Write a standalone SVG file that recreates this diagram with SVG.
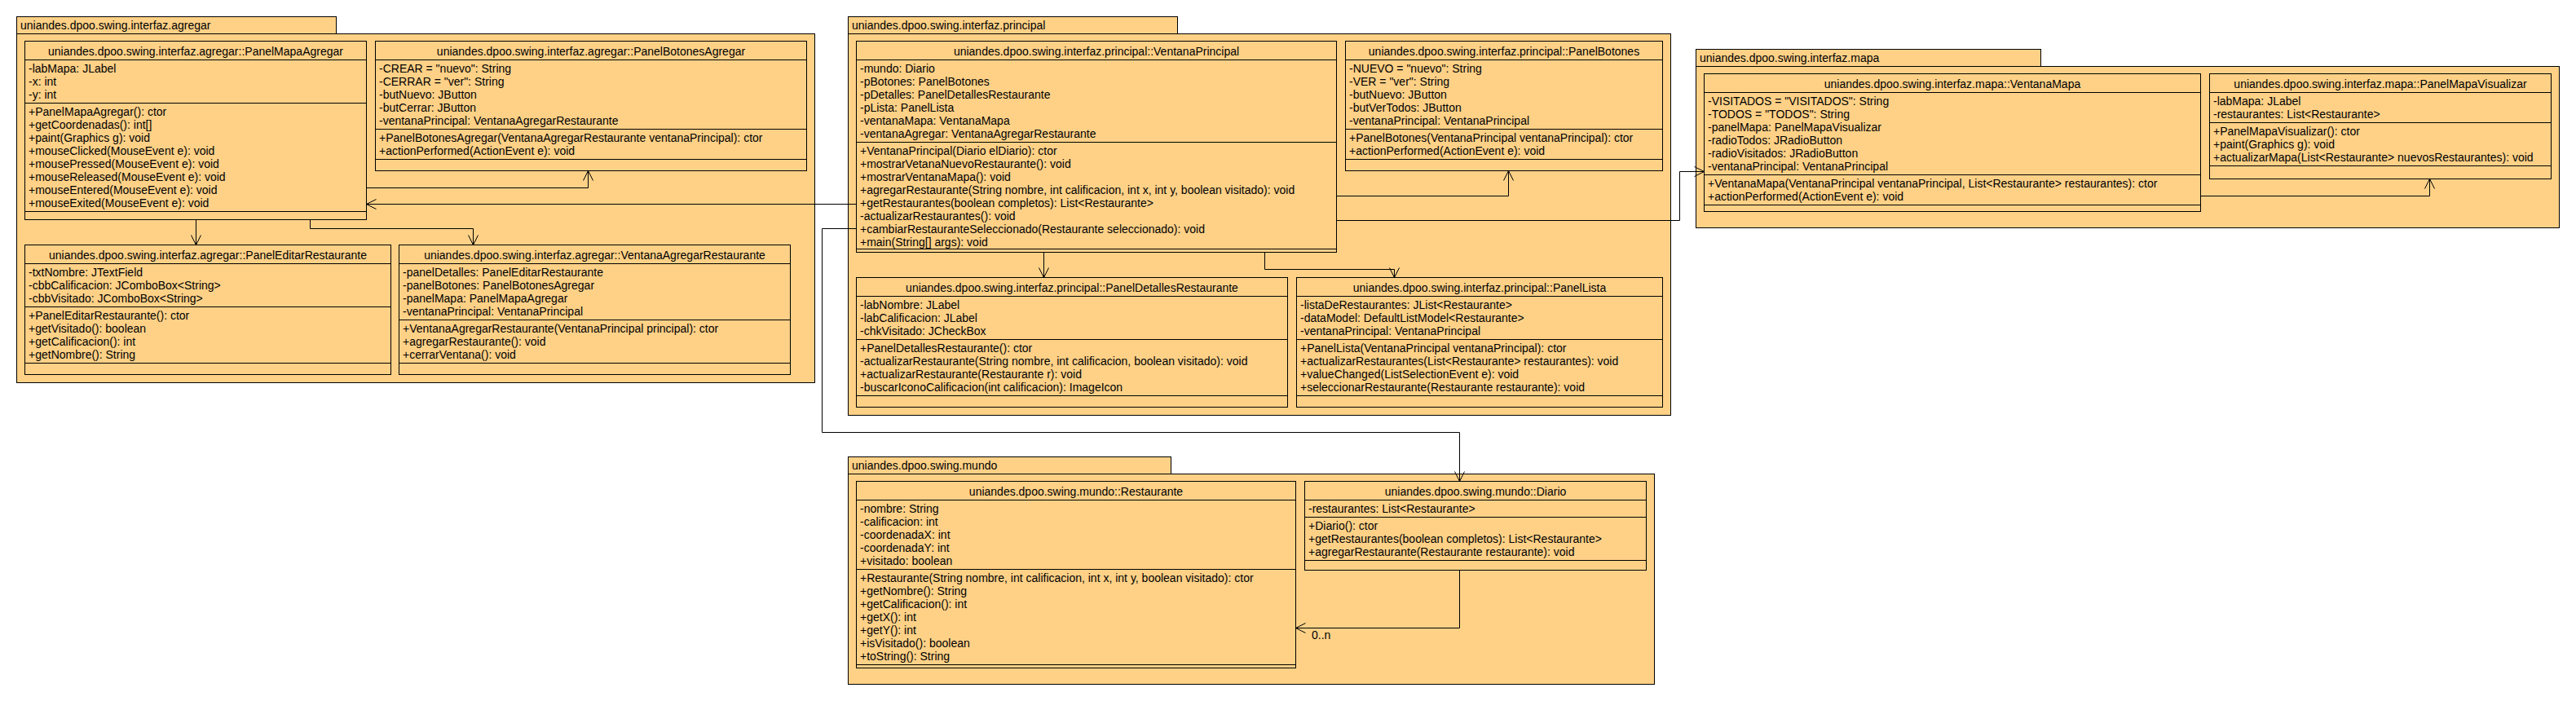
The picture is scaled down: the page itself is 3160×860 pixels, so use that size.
<svg xmlns="http://www.w3.org/2000/svg" width="3160" height="860" viewBox="0 0 3160 860">
<style>
.pk{fill:#FED187;stroke:#000;stroke-width:1}
.bx{fill:#FED187;stroke:#000;stroke-width:1}
.sp{fill:none;stroke:#000;stroke-width:1}
text{font-family:"Liberation Sans",Arial,sans-serif;font-size:14px;fill:#000}
.t{text-anchor:middle}
.cn{fill:none;stroke:#000;stroke-width:1;marker-end:url(#arr)}
</style>
<defs>
<marker id="arr" viewBox="-13 -7 14 14" refX="0" refY="0" markerWidth="14" markerHeight="14" markerUnits="userSpaceOnUse" orient="auto">
<path d="M-12,-6 L0,0 L-12,6" fill="none" stroke="#000" stroke-width="1"/>
</marker>
</defs>
<rect width="3160" height="860" fill="#fff"/>

<g id="pkg-agregar">
<rect class="pk" x="20.5" y="20.5" width="392" height="21"/>
<rect class="pk" x="20.5" y="41.5" width="979" height="428"/>
<text x="25" y="36">uniandes.dpoo.swing.interfaz.agregar</text>
</g>
<g id="pkg-principal">
<rect class="pk" x="1040.5" y="20.5" width="404" height="21"/>
<rect class="pk" x="1040.5" y="41.5" width="1009" height="468"/>
<text x="1045" y="36">uniandes.dpoo.swing.interfaz.principal</text>
</g>
<g id="pkg-mapa">
<rect class="pk" x="2080.5" y="60.5" width="423" height="21"/>
<rect class="pk" x="2080.5" y="81.5" width="1059" height="198"/>
<text x="2085" y="76">uniandes.dpoo.swing.interfaz.mapa</text>
</g>
<g id="pkg-mundo">
<rect class="pk" x="1040.5" y="560.5" width="396" height="21"/>
<rect class="pk" x="1040.5" y="581.5" width="989" height="258"/>
<text x="1045" y="576">uniandes.dpoo.swing.mundo</text>
</g>

<g id="PanelMapaAgregar">
<rect class="bx" x="30.5" y="50.5" width="419" height="219"/>
<path class="sp" d="M30.5 73.5H449.5M30.5 126.5H449.5M30.5 259.5H449.5"/>
<text class="t" x="240" y="67.5">uniandes.dpoo.swing.interfaz.agregar::PanelMapaAgregar</text>
<text x="35"><tspan x="35" y="88.5">-labMapa: JLabel</tspan><tspan x="35" y="104.5">-x: int</tspan><tspan x="35" y="120.5">-y: int</tspan></text>
<text x="35"><tspan x="35" y="141.5">+PanelMapaAgregar(): ctor</tspan><tspan x="35" y="157.5">+getCoordenadas(): int[]</tspan><tspan x="35" y="173.5">+paint(Graphics g): void</tspan><tspan x="35" y="189.5">+mouseClicked(MouseEvent e): void</tspan><tspan x="35" y="205.5">+mousePressed(MouseEvent e): void</tspan><tspan x="35" y="221.5">+mouseReleased(MouseEvent e): void</tspan><tspan x="35" y="237.5">+mouseEntered(MouseEvent e): void</tspan><tspan x="35" y="253.5">+mouseExited(MouseEvent e): void</tspan></text>
</g>

<g id="PanelBotonesAgregar">
<rect class="bx" x="460.5" y="50.5" width="529" height="159"/>
<path class="sp" d="M460.5 73.5H989.5M460.5 158.5H989.5M460.5 195.5H989.5"/>
<text class="t" x="725" y="67.5">uniandes.dpoo.swing.interfaz.agregar::PanelBotonesAgregar</text>
<text x="465"><tspan x="465" y="88.5">-CREAR = "nuevo": String</tspan><tspan x="465" y="104.5">-CERRAR = "ver": String</tspan><tspan x="465" y="120.5">-butNuevo: JButton</tspan><tspan x="465" y="136.5">-butCerrar: JButton</tspan><tspan x="465" y="152.5">-ventanaPrincipal: VentanaAgregarRestaurante</tspan></text>
<text x="465"><tspan x="465" y="173.5">+PanelBotonesAgregar(VentanaAgregarRestaurante ventanaPrincipal): ctor</tspan><tspan x="465" y="189.5">+actionPerformed(ActionEvent e): void</tspan></text>
</g>

<g id="PanelEditarRestaurante">
<rect class="bx" x="30.5" y="300.5" width="449" height="159"/>
<path class="sp" d="M30.5 323.5H479.5M30.5 376.5H479.5M30.5 445.5H479.5"/>
<text class="t" x="255" y="317.5">uniandes.dpoo.swing.interfaz.agregar::PanelEditarRestaurante</text>
<text x="35"><tspan x="35" y="338.5">-txtNombre: JTextField</tspan><tspan x="35" y="354.5">-cbbCalificacion: JComboBox&lt;String&gt;</tspan><tspan x="35" y="370.5">-cbbVisitado: JComboBox&lt;String&gt;</tspan></text>
<text x="35"><tspan x="35" y="391.5">+PanelEditarRestaurante(): ctor</tspan><tspan x="35" y="407.5">+getVisitado(): boolean</tspan><tspan x="35" y="423.5">+getCalificacion(): int</tspan><tspan x="35" y="439.5">+getNombre(): String</tspan></text>
</g>

<g id="VentanaAgregarRestaurante">
<rect class="bx" x="489.5" y="300.5" width="480" height="159"/>
<path class="sp" d="M489.5 323.5H969.5M489.5 392.5H969.5M489.5 445.5H969.5"/>
<text class="t" x="729.5" y="317.5">uniandes.dpoo.swing.interfaz.agregar::VentanaAgregarRestaurante</text>
<text x="494"><tspan x="494" y="338.5">-panelDetalles: PanelEditarRestaurante</tspan><tspan x="494" y="354.5">-panelBotones: PanelBotonesAgregar</tspan><tspan x="494" y="370.5">-panelMapa: PanelMapaAgregar</tspan><tspan x="494" y="386.5">-ventanaPrincipal: VentanaPrincipal</tspan></text>
<text x="494"><tspan x="494" y="407.5">+VentanaAgregarRestaurante(VentanaPrincipal principal): ctor</tspan><tspan x="494" y="423.5">+agregarRestaurante(): void</tspan><tspan x="494" y="439.5">+cerrarVentana(): void</tspan></text>
</g>

<g id="VentanaPrincipal">
<rect class="bx" x="1050.5" y="50.5" width="589" height="259"/>
<path class="sp" d="M1050.5 73.5H1639.5M1050.5 174.5H1639.5M1050.5 305.5H1639.5"/>
<text class="t" x="1345" y="67.5">uniandes.dpoo.swing.interfaz.principal::VentanaPrincipal</text>
<text x="1055"><tspan x="1055" y="88.5">-mundo: Diario</tspan><tspan x="1055" y="104.5">-pBotones: PanelBotones</tspan><tspan x="1055" y="120.5">-pDetalles: PanelDetallesRestaurante</tspan><tspan x="1055" y="136.5">-pLista: PanelLista</tspan><tspan x="1055" y="152.5">-ventanaMapa: VentanaMapa</tspan><tspan x="1055" y="168.5">-ventanaAgregar: VentanaAgregarRestaurante</tspan></text>
<text x="1055"><tspan x="1055" y="189.5">+VentanaPrincipal(Diario elDiario): ctor</tspan><tspan x="1055" y="205.5">+mostrarVetanaNuevoRestaurante(): void</tspan><tspan x="1055" y="221.5">+mostrarVentanaMapa(): void</tspan><tspan x="1055" y="237.5">+agregarRestaurante(String nombre, int calificacion, int x, int y, boolean visitado): void</tspan><tspan x="1055" y="253.5">+getRestaurantes(boolean completos): List&lt;Restaurante&gt;</tspan><tspan x="1055" y="269.5">-actualizarRestaurantes(): void</tspan><tspan x="1055" y="285.5">+cambiarRestauranteSeleccionado(Restaurante seleccionado): void</tspan><tspan x="1055" y="301.5">+main(String[] args): void</tspan></text>
</g>

<g id="PanelBotones">
<rect class="bx" x="1650.5" y="50.5" width="389" height="159"/>
<path class="sp" d="M1650.5 73.5H2039.5M1650.5 158.5H2039.5M1650.5 195.5H2039.5"/>
<text class="t" x="1845" y="67.5">uniandes.dpoo.swing.interfaz.principal::PanelBotones</text>
<text x="1655"><tspan x="1655" y="88.5">-NUEVO = "nuevo": String</tspan><tspan x="1655" y="104.5">-VER = "ver": String</tspan><tspan x="1655" y="120.5">-butNuevo: JButton</tspan><tspan x="1655" y="136.5">-butVerTodos: JButton</tspan><tspan x="1655" y="152.5">-ventanaPrincipal: VentanaPrincipal</tspan></text>
<text x="1655"><tspan x="1655" y="173.5">+PanelBotones(VentanaPrincipal ventanaPrincipal): ctor</tspan><tspan x="1655" y="189.5">+actionPerformed(ActionEvent e): void</tspan></text>
</g>

<g id="PanelDetallesRestaurante">
<rect class="bx" x="1050.5" y="340.5" width="529" height="159"/>
<path class="sp" d="M1050.5 363.5H1579.5M1050.5 416.5H1579.5M1050.5 485.5H1579.5"/>
<text class="t" x="1315" y="357.5">uniandes.dpoo.swing.interfaz.principal::PanelDetallesRestaurante</text>
<text x="1055"><tspan x="1055" y="378.5">-labNombre: JLabel</tspan><tspan x="1055" y="394.5">-labCalificacion: JLabel</tspan><tspan x="1055" y="410.5">-chkVisitado: JCheckBox</tspan></text>
<text x="1055"><tspan x="1055" y="431.5">+PanelDetallesRestaurante(): ctor</tspan><tspan x="1055" y="447.5">-actualizarRestaurante(String nombre, int calificacion, boolean visitado): void</tspan><tspan x="1055" y="463.5">+actualizarRestaurante(Restaurante r): void</tspan><tspan x="1055" y="479.5">-buscarIconoCalificacion(int calificacion): ImageIcon</tspan></text>
</g>

<g id="PanelLista">
<rect class="bx" x="1590.5" y="340.5" width="449" height="159"/>
<path class="sp" d="M1590.5 363.5H2039.5M1590.5 416.5H2039.5M1590.5 485.5H2039.5"/>
<text class="t" x="1815" y="357.5">uniandes.dpoo.swing.interfaz.principal::PanelLista</text>
<text x="1595"><tspan x="1595" y="378.5">-listaDeRestaurantes: JList&lt;Restaurante&gt;</tspan><tspan x="1595" y="394.5">-dataModel: DefaultListModel&lt;Restaurante&gt;</tspan><tspan x="1595" y="410.5">-ventanaPrincipal: VentanaPrincipal</tspan></text>
<text x="1595"><tspan x="1595" y="431.5">+PanelLista(VentanaPrincipal ventanaPrincipal): ctor</tspan><tspan x="1595" y="447.5">+actualizarRestaurantes(List&lt;Restaurante&gt; restaurantes): void</tspan><tspan x="1595" y="463.5">+valueChanged(ListSelectionEvent e): void</tspan><tspan x="1595" y="479.5">+seleccionarRestaurante(Restaurante restaurante): void</tspan></text>
</g>

<g id="VentanaMapa">
<rect class="bx" x="2090.5" y="90.5" width="609" height="169"/>
<path class="sp" d="M2090.5 113.5H2699.5M2090.5 214.5H2699.5M2090.5 251.5H2699.5"/>
<text class="t" x="2395" y="107.5">uniandes.dpoo.swing.interfaz.mapa::VentanaMapa</text>
<text x="2095"><tspan x="2095" y="128.5">-VISITADOS = "VISITADOS": String</tspan><tspan x="2095" y="144.5">-TODOS = "TODOS": String</tspan><tspan x="2095" y="160.5">-panelMapa: PanelMapaVisualizar</tspan><tspan x="2095" y="176.5">-radioTodos: JRadioButton</tspan><tspan x="2095" y="192.5">-radioVisitados: JRadioButton</tspan><tspan x="2095" y="208.5">-ventanaPrincipal: VentanaPrincipal</tspan></text>
<text x="2095"><tspan x="2095" y="229.5">+VentanaMapa(VentanaPrincipal ventanaPrincipal, List&lt;Restaurante&gt; restaurantes): ctor</tspan><tspan x="2095" y="245.5">+actionPerformed(ActionEvent e): void</tspan></text>
</g>

<g id="PanelMapaVisualizar">
<rect class="bx" x="2710.5" y="90.5" width="419" height="129"/>
<path class="sp" d="M2710.5 113.5H3129.5M2710.5 150.5H3129.5M2710.5 203.5H3129.5"/>
<text class="t" x="2920" y="107.5">uniandes.dpoo.swing.interfaz.mapa::PanelMapaVisualizar</text>
<text x="2715"><tspan x="2715" y="128.5">-labMapa: JLabel</tspan><tspan x="2715" y="144.5">-restaurantes: List&lt;Restaurante&gt;</tspan></text>
<text x="2715"><tspan x="2715" y="165.5">+PanelMapaVisualizar(): ctor</tspan><tspan x="2715" y="181.5">+paint(Graphics g): void</tspan><tspan x="2715" y="197.5">+actualizarMapa(List&lt;Restaurante&gt; nuevosRestaurantes): void</tspan></text>
</g>

<g id="Restaurante">
<rect class="bx" x="1050.5" y="590.5" width="539" height="229"/>
<path class="sp" d="M1050.5 613.5H1589.5M1050.5 698.5H1589.5M1050.5 815.5H1589.5"/>
<text class="t" x="1320" y="607.5">uniandes.dpoo.swing.mundo::Restaurante</text>
<text x="1055"><tspan x="1055" y="628.5">-nombre: String</tspan><tspan x="1055" y="644.5">-calificacion: int</tspan><tspan x="1055" y="660.5">-coordenadaX: int</tspan><tspan x="1055" y="676.5">-coordenadaY: int</tspan><tspan x="1055" y="692.5">+visitado: boolean</tspan></text>
<text x="1055"><tspan x="1055" y="713.5">+Restaurante(String nombre, int calificacion, int x, int y, boolean visitado): ctor</tspan><tspan x="1055" y="729.5">+getNombre(): String</tspan><tspan x="1055" y="745.5">+getCalificacion(): int</tspan><tspan x="1055" y="761.5">+getX(): int</tspan><tspan x="1055" y="777.5">+getY(): int</tspan><tspan x="1055" y="793.5">+isVisitado(): boolean</tspan><tspan x="1055" y="809.5">+toString(): String</tspan></text>
</g>

<g id="Diario">
<rect class="bx" x="1600.5" y="590.5" width="419" height="109"/>
<path class="sp" d="M1600.5 613.5H2019.5M1600.5 634.5H2019.5M1600.5 687.5H2019.5"/>
<text class="t" x="1810" y="607.5">uniandes.dpoo.swing.mundo::Diario</text>
<text x="1605"><tspan x="1605" y="628.5">-restaurantes: List&lt;Restaurante&gt;</tspan></text>
<text x="1605"><tspan x="1605" y="649.5">+Diario(): ctor</tspan><tspan x="1605" y="665.5">+getRestaurantes(boolean completos): List&lt;Restaurante&gt;</tspan><tspan x="1605" y="681.5">+agregarRestaurante(Restaurante restaurante): void</tspan></text>
</g>

<g id="connectors">
<path class="cn" d="M240.5 269.5V300.5"/>
<path class="cn" d="M380.5 269.5V280.5H580.5V300.5"/>
<path class="cn" d="M449.5 230.5H721.5V209.5"/>
<path class="cn" d="M1050.5 250.5H449.5"/>
<path class="cn" d="M1639.5 240.5H1850.5V209.5"/>
<path class="cn" d="M1639.5 270.5H2060.5V210.5H2090.5"/>
<path class="cn" d="M1280.5 309.5V340.5"/>
<path class="cn" d="M1551.5 309.5V330.5H1710.5V340.5"/>
<path class="cn" d="M1050.5 280.5H1008.5V530.5H1790.5V590.5"/>
<path class="cn" d="M2699.5 240.5H2980.5V219.5"/>
<path class="cn" d="M1790.5 699.5V770.5H1589.5"/>
<text x="1609" y="784">0..n</text>
</g>
</svg>
